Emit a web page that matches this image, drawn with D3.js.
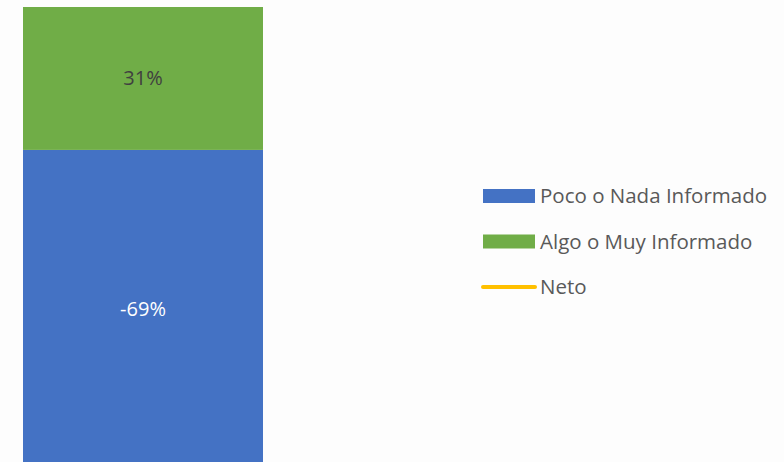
<!DOCTYPE html>
<html><head><meta charset="utf-8">
<script src="https://cdn.jsdelivr.net/npm/d3@7"></script>
<style>html,body{margin:0;padding:0;background:#fdfdfd;}svg{display:block;}</style>
</head><body>
<svg id="chart" width="784" height="462"></svg>
<script>
const categories = ["Total"];
const seriesNames = ["Poco o Nada Informado", "Algo o Muy Informado", "Neto"];
const pocoValues = [-69];
const algoValues = [31];
const netoValues = [-38];
const colors = {"Poco o Nada Informado": "#4472C4", "Algo o Muy Informado": "#70AD47", "Neto": "#FFC000"};

const svg = d3.select("#chart");
const W = 784, H = 462;
svg.append("rect").attr("width", W).attr("height", H).attr("fill", "#fdfdfd");

const x = d3.scaleBand().domain(categories).range([23, 263]).padding(0);
const y = d3.scaleLinear().domain([-69, 31]).range([468, 7]);

const g = svg.append("g");
g.selectAll(".neg").data(categories).join("rect")
  .attr("x", d => x(d)).attr("width", x.bandwidth())
  .attr("y", y(0)).attr("height", (d, i) => y(pocoValues[i]) - y(0))
  .attr("fill", colors["Poco o Nada Informado"]);
g.selectAll(".pos").data(categories).join("rect")
  .attr("x", d => x(d)).attr("width", x.bandwidth())
  .attr("y", (d, i) => y(algoValues[i])).attr("height", (d, i) => y(0) - y(algoValues[i]))
  .attr("fill", colors["Algo o Muy Informado"]);

const fontFam = "'Open Sans', 'Noto Sans', sans-serif";
g.selectAll(".lblpos").data(categories).join("text")
  .attr("x", d => x(d) + x.bandwidth() / 2)
  .attr("y", (d, i) => (y(algoValues[i]) + y(0)) / 2)
  .attr("dy", "0.35em").attr("text-anchor", "middle")
  .attr("font-family", fontFam).attr("font-size", 20).attr("fill", "#404040")
  .text((d, i) => algoValues[i] + "%");
g.selectAll(".lblneg").data(categories).join("text")
  .attr("x", d => x(d) + x.bandwidth() / 2)
  .attr("y", (d, i) => (y(pocoValues[i]) + y(0)) / 2)
  .attr("dy", "0.35em").attr("text-anchor", "middle")
  .attr("font-family", fontFam).attr("font-size", 20).attr("fill", "#ffffff")
  .text((d, i) => pocoValues[i] + "%");

const leg = svg.append("g").attr("transform", "translate(483,196)");
seriesNames.forEach((name, i) => {
  const row = leg.append("g").attr("transform", `translate(0,${i * 45.5})`);
  if (name === "Neto") {
    row.append("line").attr("x1", 0).attr("x2", 52).attr("y1", 0).attr("y2", 0)
      .attr("stroke", colors[name]).attr("stroke-width", 4).attr("stroke-linecap", "round");
  } else {
    row.append("rect").attr("x", 0).attr("y", -7).attr("width", 52).attr("height", 14)
      .attr("fill", colors[name]);
  }
  row.append("text").attr("x", 57).attr("y", 0).attr("dy", "0.35em")
    .attr("font-family", fontFam).attr("font-size", 20.5).attr("fill", "#595959")
    .text(name);
});
</script>
</body></html>
